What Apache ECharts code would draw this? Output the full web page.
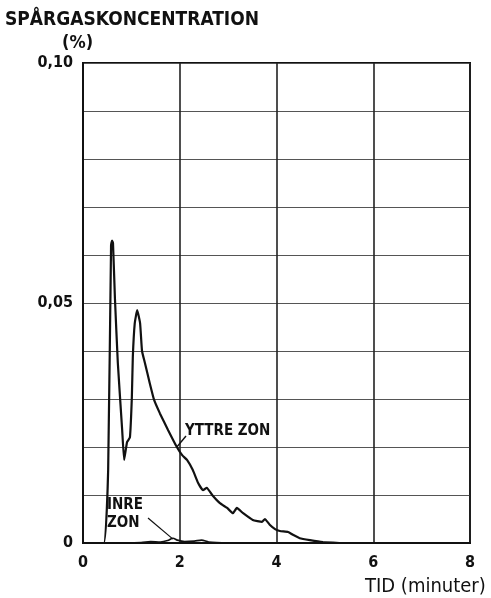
<!DOCTYPE html>
<html>
<head>
<meta charset="utf-8">
<script src="https://cdn.jsdelivr.net/npm/echarts@6/dist/echarts.min.js"></script>
<style>
  html, body { margin: 0; padding: 0; background: #fff; }
  #chart { width: 491px; height: 598px; }
</style>
</head>
<body>
<div id="chart"></div>
<script>
// Tracer-gas concentration (%) against time (minutes) for the outer and inner zone
const outerTime  = [0, 0.43, 0.52, 0.58, 0.60, 0.62, 0.66, 0.72, 0.81, 0.85, 0.91, 0.97, 1.01, 1.03, 1.07, 1.12,
                    1.18, 1.22, 1.28, 1.38, 1.47, 1.59, 1.76, 1.94, 2.05, 2.15, 2.27, 2.38, 2.48, 2.56, 2.67,
                    2.83, 2.98, 3.10, 3.18, 3.31, 3.51, 3.70, 3.76, 3.86, 3.97, 4.07, 4.24, 4.34, 4.48, 4.69,
                    4.96, 5.30];
const outerValue = [0, 0, 0.0152, 0.062, 0.063, 0.0625, 0.051, 0.0375, 0.0235, 0.0173, 0.021, 0.022, 0.0304,
                    0.0388, 0.0458, 0.0485, 0.0458, 0.040, 0.0375, 0.0333, 0.0298, 0.027, 0.0235, 0.020,
                    0.0183, 0.0173, 0.0152, 0.0125, 0.011, 0.0115, 0.010, 0.0083, 0.0073, 0.0062, 0.0073,
                    0.0062, 0.0048, 0.0044, 0.0050, 0.0038, 0.0029, 0.0025, 0.0023, 0.0017, 0.0010, 0.0006,
                    0.0002, 0];
const innerTime  = [0.40, 1.20, 1.40, 1.60, 1.75, 1.86, 1.95, 2.10, 2.30, 2.45, 2.60, 3.00];
const innerValue = [0, 0.0001, 0.0003, 0.0002, 0.0005, 0.0010, 0.0006, 0.0003, 0.0004, 0.0006, 0.0002, 0];

const xTicks = [0, 2, 4, 6, 8];
const yTickLabels = { 0: '0', 5: '0,05', 10: '0,10' };   // keyed by hundredths

const FONT = '"DejaVu Sans Condensed", "DejaVu Sans", sans-serif';
const INK = '#111';

const chart = echarts.init(document.getElementById('chart'));

function pairs(xs, ys) { return xs.map((x, i) => [x, ys[i]]); }

chart.setOption({
  animation: false,
  backgroundColor: '#fff',
  grid: { left: 83, right: 21, top: 63, bottom: 55, show: true, borderColor: INK, borderWidth: 2 },
  xAxis: {
    type: 'value', min: xTicks[0], max: xTicks[xTicks.length - 1], interval: 2,
    axisLine: { show: true, lineStyle: { color: INK, width: 2 } },
    axisTick: { show: false },
    axisLabel: { color: INK, fontFamily: FONT, fontWeight: 'bold', fontSize: 16, margin: 12 },
    splitLine: { show: true, lineStyle: { color: '#222', width: 1.6 } }
  },
  yAxis: {
    type: 'value', min: 0, max: 0.1, interval: 0.01,
    axisLine: { show: true, lineStyle: { color: INK, width: 2 } },
    axisTick: { show: false },
    axisLabel: {
      color: INK, fontFamily: FONT, fontWeight: 'bold', fontSize: 16, margin: 10,
      formatter: v => yTickLabels[Math.round(v * 100)] || ''
    },
    splitLine: { show: true, lineStyle: { color: '#555', width: 1.2 } }
  },
  series: [
    {
      name: 'YTTRE ZON', type: 'line', data: pairs(outerTime, outerValue),
      showSymbol: false, smooth: 0.12, lineStyle: { color: INK, width: 2.2 }, z: 5
    },
    {
      name: 'INRE ZON', type: 'line', data: pairs(innerTime, innerValue),
      showSymbol: false, smooth: 0.3, lineStyle: { color: INK, width: 1.6 }, z: 4
    }
  ]
});

// Annotation pointers anchored in data coordinates
const outerAnchor = chart.convertToPixel({ gridIndex: 0 }, [1.94, 0.020]);
const innerAnchor = chart.convertToPixel({ gridIndex: 0 }, [1.86, 0.0008]);

chart.setOption({
  graphic: [
    { type: 'text', left: 5, top: 10, scaleX: 0.95,
      style: { text: 'SPÅRGASKONCENTRATION', fill: INK, font: 'bold 20px ' + FONT } },
    { type: 'text', left: 62, top: 34,
      style: { text: '(%)', fill: INK, font: 'bold 18px ' + FONT } },
    { type: 'text', left: 365, top: 577,
      style: { text: 'TID (minuter)', fill: INK, font: '20px ' + FONT } },
    { type: 'text', left: 185, top: 424,
      style: { text: 'YTTRE ZON', fill: INK, font: 'bold 15px ' + FONT } },
    { type: 'line', shape: { x1: 186, y1: 436, x2: outerAnchor[0], y2: outerAnchor[1] },
      style: { stroke: INK, lineWidth: 1.4 } },
    { type: 'text', left: 107, top: 496,
      style: { text: 'INRE\nZON', fill: INK, font: 'bold 15px ' + FONT, lineHeight: 18 } },
    { type: 'line', shape: { x1: 148, y1: 518, x2: innerAnchor[0], y2: innerAnchor[1] },
      style: { stroke: INK, lineWidth: 1.2 } }
  ]
});
</script>
</body>
</html>
